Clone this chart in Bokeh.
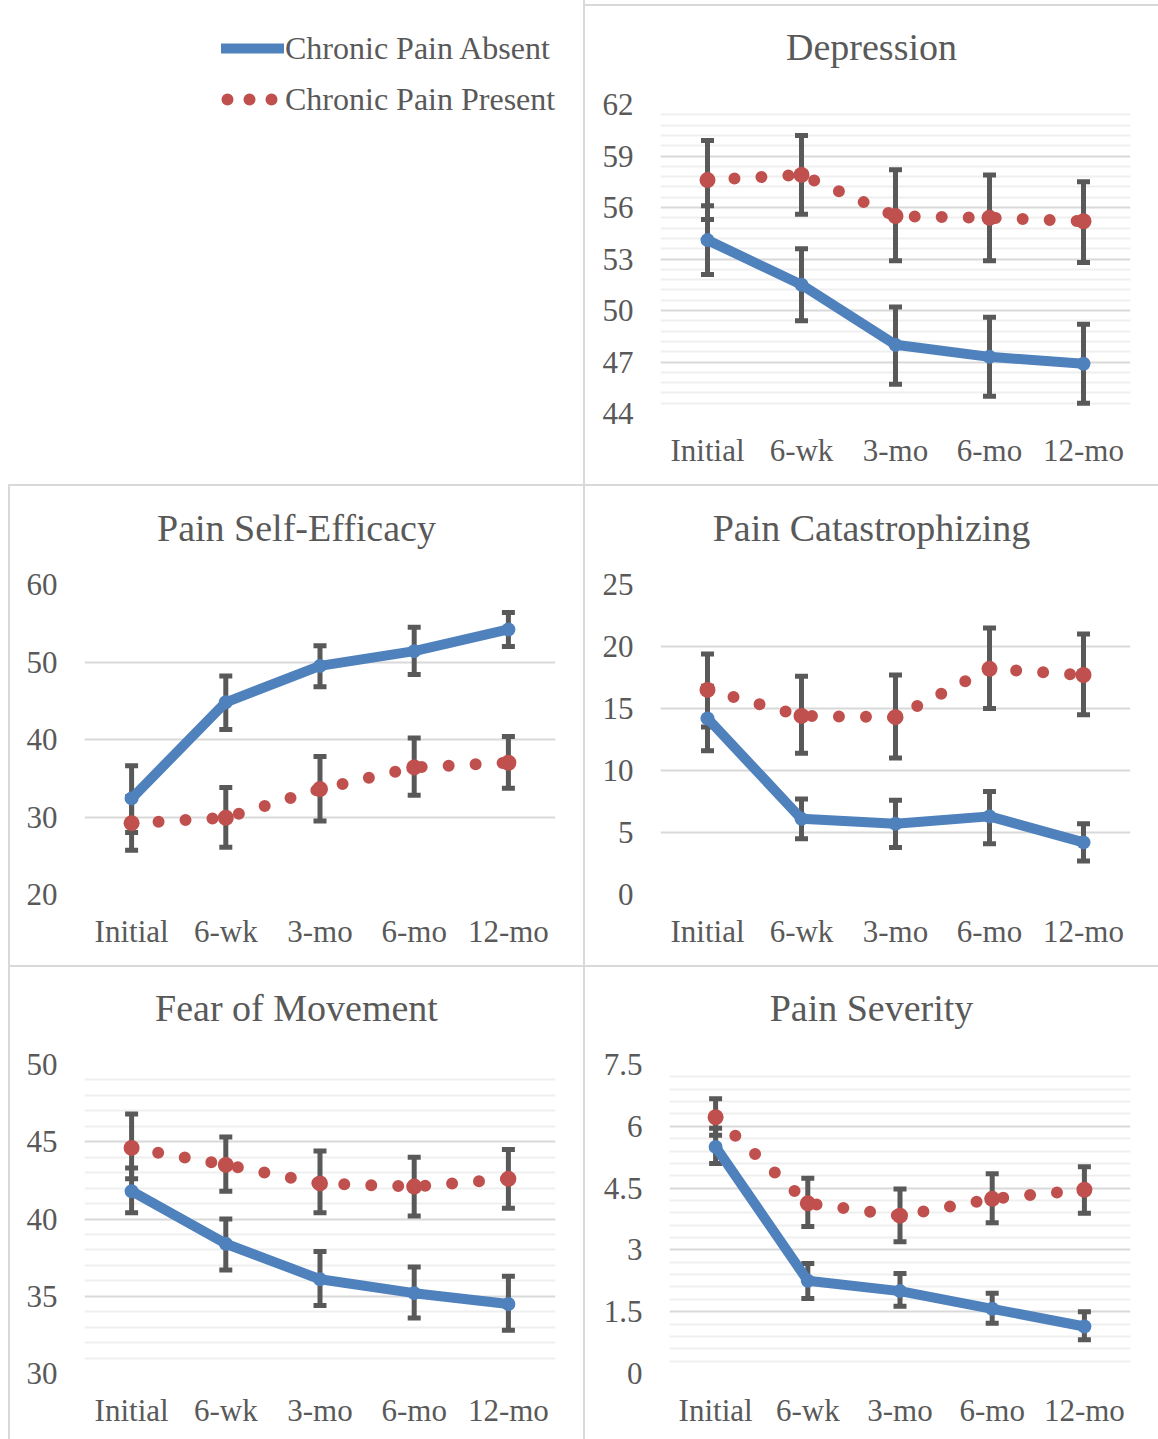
import numpy as np
from bokeh.plotting import figure
from bokeh.models import (ColumnDataSource, Range1d, FactorRange, FixedTicker,
                          NumeralTickFormatter, Whisker, TeeHead, Legend, LegendItem,
                          Div)
from bokeh.layouts import row, column
from bokeh.embed import file_html
from bokeh.resources import INLINE

# ---------------- data ----------------
categories = ["Initial", "6-wk", "3-mo", "6-mo", "12-mo"]
legend_labels = ["Chronic Pain Absent", "Chronic Pain Present"]

dep_title = "Depression"
dep_ticks = [44, 47, 50, 53, 56, 59, 62]
dep_absent = [54.1, 51.5, 48.0, 47.3, 46.9]
dep_absent_lo = [52.1, 49.4, 45.7, 45.0, 44.6]
dep_absent_hi = [56.1, 53.6, 50.2, 49.6, 49.2]
dep_present = [57.6, 57.9, 55.5, 55.4, 55.2]
dep_present_lo = [55.3, 55.6, 52.9, 52.9, 52.8]
dep_present_hi = [59.9, 60.2, 58.2, 57.9, 57.5]

pse_title = "Pain Self-Efficacy"
pse_ticks = [20, 30, 40, 50, 60]
pse_absent = [32.4, 44.8, 49.5, 51.4, 54.2]
pse_absent_lo = [28.0, 41.3, 46.8, 48.4, 52.0]
pse_absent_hi = [36.6, 48.2, 52.1, 54.5, 56.4]
pse_present = [29.2, 29.9, 33.6, 36.4, 37.0]
pse_present_lo = [25.7, 26.1, 29.5, 32.8, 33.7]
pse_present_hi = [32.6, 33.8, 37.8, 40.2, 40.4]

pc_title = "Pain Catastrophizing"
pc_ticks = [0, 5, 10, 15, 20, 25]
pc_absent = [14.2, 6.1, 5.7, 6.3, 4.2]
pc_absent_lo = [11.6, 4.5, 3.8, 4.1, 2.7]
pc_absent_hi = [16.8, 7.7, 7.6, 8.3, 5.7]
pc_present = [16.5, 14.4, 14.3, 18.2, 17.7]
pc_present_lo = [13.5, 11.4, 11.0, 15.0, 14.5]
pc_present_hi = [19.4, 17.6, 17.7, 21.5, 21.0]

fom_title = "Fear of Movement"
fom_ticks = [30, 35, 40, 45, 50]
fom_absent = [41.8, 38.4, 36.1, 35.2, 34.5]
fom_absent_lo = [40.4, 36.7, 34.4, 33.6, 32.8]
fom_absent_hi = [43.3, 40.0, 37.9, 36.9, 36.3]
fom_present = [44.6, 43.5, 42.3, 42.1, 42.6]
fom_present_lo = [42.6, 41.8, 40.4, 40.2, 40.7]
fom_present_hi = [46.8, 45.3, 44.4, 44.0, 44.5]

ps_title = "Pain Severity"
ps_ticks = [0, 1.5, 3, 4.5, 6, 7.5]
ps_absent = [5.5, 2.25, 2.0, 1.57, 1.14]
ps_absent_lo = [5.1, 1.82, 1.63, 1.22, 0.82]
ps_absent_hi = [5.95, 2.67, 2.43, 1.95, 1.5]
ps_present = [6.22, 4.13, 3.83, 4.24, 4.46]
ps_present_lo = [5.78, 3.57, 3.2, 3.66, 3.89]
ps_present_hi = [6.67, 4.74, 4.48, 4.85, 5.02]

# ---------------- style ----------------
BLUE = "#4F81BD"
RED = "#C0504D"
BAR = "#595959"
TEXT = "#595959"
GRID = "#D9D9D9"
MINOR = "#EFEFEF"
BORDER = "#D9D9D9"
FONT = "Liberation Serif"
TITLE_H = 72


def title_div(text, width, pad):
    html = ('<div style="width:%dpx;padding-top:%dpx;line-height:38px;'
            'text-align:center;font-family:\'Liberation Serif\',serif;'
            'font-size:38px;color:%s;white-space:nowrap;">%s</div>'
            % (width, pad, TEXT, text))
    return Div(text=html, width=width, height=TITLE_H, margin=0,
               styles={"text-align": "center"})


def make_panel(ticks, n_minor, absent, a_lo, a_hi, present, p_lo, p_hi,
               width, height, left, right, top, bottom):
    p = figure(width=width, height=height,
               x_range=FactorRange(factors=categories, range_padding=0),
               y_range=Range1d(ticks[0], ticks[-1]),
               toolbar_location=None, output_backend="svg",
               min_border_left=left, min_border_right=right,
               min_border_top=top, min_border_bottom=bottom,
               outline_line_color=None, background_fill_color="white",
               border_fill_color="white")
    minor = []
    if n_minor:
        for a, b in zip(ticks[:-1], ticks[1:]):
            minor += [float(v) for v in np.linspace(a, b, n_minor + 1)[1:-1]]
    p.yaxis.ticker = FixedTicker(ticks=ticks, minor_ticks=minor)
    p.yaxis.formatter = NumeralTickFormatter(format="0.[0]")
    for ax in (p.xaxis, p.yaxis):
        ax.axis_line_color = None
        ax.major_tick_line_color = None
        ax.minor_tick_line_color = None
        ax.major_tick_out = 0
        ax.major_tick_in = 0
        ax.minor_tick_out = 0
        ax.major_label_text_font = FONT
        ax.major_label_text_font_size = "31px"
        ax.major_label_text_color = TEXT
    p.yaxis.major_label_standoff = 27
    p.xaxis.major_label_standoff = 19
    p.xgrid.grid_line_color = None
    p.ygrid.grid_line_color = GRID
    p.ygrid.grid_line_width = 2
    if n_minor:
        p.ygrid.minor_grid_line_color = MINOR
        p.ygrid.minor_grid_line_width = 2

    src_a = ColumnDataSource(dict(x=categories, y=absent, lo=a_lo, hi=a_hi))
    src_p = ColumnDataSource(dict(x=categories, y=present, lo=p_lo, hi=p_hi))
    for src in (src_a, src_p):
        p.add_layout(Whisker(base="x", upper="hi", lower="lo", source=src,
                             dimension="height", line_color=BAR, line_width=5,
                             upper_head=TeeHead(size=13, line_color=BAR, line_width=5),
                             lower_head=TeeHead(size=13, line_color=BAR, line_width=5)))
    p.line("x", "y", source=src_a, line_color=BLUE, line_width=10,
           line_join="round", line_cap="round")
    p.scatter("x", "y", source=src_a, size=14, fill_color=BLUE, line_color=None)
    p.line("x", "y", source=src_p, line_color=RED, line_width=12,
           line_dash="0 27", line_cap="round")
    p.scatter("x", "y", source=src_p, size=16, fill_color=RED, line_color=None)
    return p


# legend panel (renderers hidden; only their legend glyphs are drawn)
lp = figure(width=583, height=484, x_axis_type=None, y_axis_type=None,
            x_range=FactorRange(factors=categories),
            y_range=Range1d(dep_ticks[0], dep_ticks[-1]),
            toolbar_location=None, output_backend="svg",
            min_border_left=221, min_border_top=28, min_border_right=0,
            min_border_bottom=0, outline_line_color=None)
leg_src_a = ColumnDataSource(dict(x=categories, y=dep_absent))
leg_src_p = ColumnDataSource(dict(x=categories, y=dep_present))
la = lp.line("x", "y", source=leg_src_a, line_color=BLUE, line_width=10,
             line_cap="round", visible=False)
lr = lp.line("x", "y", source=leg_src_p, line_color=RED, line_width=12,
             line_dash="0 22", line_dash_offset=16, line_cap="round",
             visible=False)
legend = Legend(items=[LegendItem(label=legend_labels[0], renderers=[la]),
                       LegendItem(label=legend_labels[1], renderers=[lr])],
                location="top_left", margin=0, padding=0, border_line_color=None,
                background_fill_alpha=0, glyph_width=63, glyph_height=40,
                label_height=40, label_standoff=1, spacing=11,
                label_text_font=FONT, label_text_font_size="32px",
                label_text_color=TEXT, inactive_fill_alpha=0)
lp.add_layout(legend)

dep = make_panel(dep_ticks, 5, dep_absent, dep_absent_lo, dep_absent_hi,
                 dep_present, dep_present_lo, dep_present_hi,
                 573, 406, 75, 28, 26, 71)
pse = make_panel(pse_ticks, 0, pse_absent, pse_absent_lo, pse_absent_hi,
                 pse_present, pse_present_lo, pse_present_hi,
                 573, 407, 74, 28, 26, 71)
pc = make_panel(pc_ticks, 0, pc_absent, pc_absent_lo, pc_absent_hi,
                pc_present, pc_present_lo, pc_present_hi,
                573, 407, 75, 28, 26, 71)
fom = make_panel(fom_ticks, 5, fom_absent, fom_absent_lo, fom_absent_hi,
                 fom_present, fom_present_lo, fom_present_hi,
                 573, 400, 74, 28, 25, 66)
ps = make_panel(ps_ticks, 5, ps_absent, ps_absent_lo, ps_absent_hi,
                ps_present, ps_present_lo, ps_present_hi,
                573, 400, 84, 28, 25, 66)


def box(w, h, color=None):
    styles = {"background-color": color} if color else {}
    return Div(text="", width=w, height=h, margin=0, styles=styles)


top_row = row(lp, box(2, 484, BORDER),
              column(box(573, 4), box(573, 2, BORDER),
                     title_div(dep_title, 573, 22), dep))
sep = lambda: row(box(8, 2), box(1150, 2, BORDER))
mid_row = row(box(8, 479), box(2, 479, BORDER),
              column(title_div(pse_title, 573, 23), pse),
              box(2, 479, BORDER),
              column(title_div(pc_title, 573, 23), pc))
bot_row = row(box(8, 472), box(2, 472, BORDER),
              column(title_div(fom_title, 573, 22), fom),
              box(2, 472, BORDER),
              column(title_div(ps_title, 573, 22), ps))
layout = column(top_row, sep(), mid_row, sep(), bot_row)

open("out.html", "w").write(file_html(layout, INLINE))
